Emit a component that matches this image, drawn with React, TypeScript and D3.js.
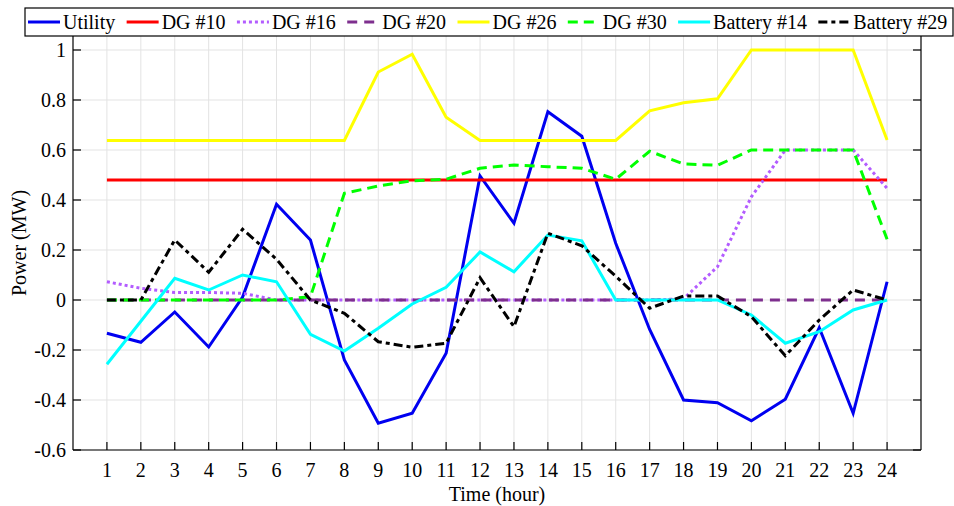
import React, { useEffect, useRef } from "react";
import * as d3 from "d3";

const hours = [1,2,3,4,5,6,7,8,9,10,11,12,13,14,15,16,17,18,19,20,21,22,23,24];
const utility = [-0.133,-0.169,-0.048,-0.188,0.012,0.383,0.24,-0.24,-0.493,-0.453,-0.213,0.496,0.307,0.753,0.655,0.227,-0.118,-0.4,-0.411,-0.483,-0.397,-0.111,-0.453,0.073];
const dg10 = [0.48,0.48,0.48,0.48,0.48,0.48,0.48,0.48,0.48,0.48,0.48,0.48,0.48,0.48,0.48,0.48,0.48,0.48,0.48,0.48,0.48,0.48,0.48,0.48];
const dg16 = [0.073,0.047,0.03,0.03,0.027,0,0,0,0,0,0,0,0,0,0,0,0,0.005,0.133,0.413,0.6,0.6,0.6,0.447];
const dg20 = [0,0,0,0,0,0,0,0,0,0,0,0,0,0,0,0,0,0,0,0,0,0,0,0];
const dg26 = [0.638,0.638,0.638,0.638,0.638,0.638,0.638,0.638,0.912,0.983,0.731,0.638,0.638,0.638,0.638,0.638,0.757,0.789,0.805,1,1,1,1,0.64];
const dg30 = [0,0,0,0,0,0,0.013,0.427,0.456,0.477,0.483,0.527,0.54,0.533,0.527,0.483,0.595,0.544,0.539,0.6,0.6,0.6,0.6,0.243];
const bat14 = [-0.257,-0.085,0.087,0.04,0.1,0.073,-0.137,-0.204,-0.113,-0.016,0.051,0.192,0.113,0.26,0.237,0,0,0,0,-0.06,-0.173,-0.127,-0.04,0];
const bat29 = [0,0,0.24,0.111,0.283,0.163,0,-0.053,-0.167,-0.189,-0.173,0.089,-0.107,0.267,0.217,0.095,-0.033,0.016,0.016,-0.067,-0.223,-0.08,0.04,0];

const seriesNames = ["Utility","DG #10","DG #16","DG #20","DG #26","DG #30","Battery #14","Battery #29"];
const seriesValues = [utility, dg10, dg16, dg20, dg26, dg30, bat14, bat29];
const seriesColors = ["#0000f0","#ff0000","#b35cff","#7e2f8e","#ffff00","#00ff00","#00ffff","#000000"];
const seriesDash = ["none","none","3,3","10,7","none","10,6","none","9,4,4,4"];

const yTicks = [-0.6,-0.4,-0.2,0,0.2,0.4,0.6,0.8,1];
const yTickLabels = ["-0.6","-0.4","-0.2","0","0.2","0.4","0.6","0.8","1"];

const W = 954, H = 506;
const FONT = "'Liberation Serif', 'Times New Roman', serif";

export default function App() {
  const ref = useRef<SVGSVGElement>(null);
  useEffect(() => {
    const svg = d3.select(ref.current);
    svg.selectAll("*").remove();
    const left = 73, right = 921, top = 36, bottom = 450;
    const x = d3.scaleLinear().domain([0, 25]).range([left, right]);
    const y = d3.scaleLinear().domain([-0.6, 1.056]).range([bottom, top]);

    svg.append("rect").attr("x", 0).attr("y", 0).attr("width", W).attr("height", H).attr("fill", "#fff");

    const grid = svg.append("g").attr("stroke", "#e3e3e3").attr("stroke-width", 1);
    hours.forEach(h => {
      grid.append("line").attr("x1", x(h)).attr("x2", x(h)).attr("y1", top).attr("y2", bottom);
    });
    yTicks.forEach(t => {
      grid.append("line").attr("x1", left).attr("x2", right).attr("y1", y(t)).attr("y2", y(t));
    });

    const line = d3.line<number>().x((_, i) => x(hours[i])).y(v => y(v));
    seriesValues.forEach((vals, k) => {
      svg.append("path")
        .attr("d", line(vals) as string)
        .attr("fill", "none")
        .attr("stroke", seriesColors[k])
        .attr("stroke-width", 3)
        .attr("stroke-dasharray", seriesDash[k])
        .attr("stroke-linejoin", "miter");
    });

    // axes box
    const ax = svg.append("g").attr("stroke", "#000").attr("stroke-width", 1.2);
    ax.append("line").attr("x1", left).attr("x2", right).attr("y1", bottom).attr("y2", bottom);
    ax.append("line").attr("x1", left).attr("x2", left).attr("y1", top).attr("y2", bottom);
    ax.append("line").attr("x1", right).attr("x2", right).attr("y1", top).attr("y2", bottom);
    hours.forEach(h => {
      ax.append("line").attr("x1", x(h)).attr("x2", x(h)).attr("y1", bottom).attr("y2", bottom - 8);
    });
    yTicks.forEach(t => {
      ax.append("line").attr("x1", left).attr("x2", left + 8).attr("y1", y(t)).attr("y2", y(t));
      ax.append("line").attr("x1", right).attr("x2", right - 8).attr("y1", y(t)).attr("y2", y(t));
    });

    const txt = svg.append("g").attr("font-family", FONT).attr("font-size", 20).attr("fill", "#000");
    hours.forEach(h => {
      txt.append("text").attr("x", x(h)).attr("y", 477).attr("text-anchor", "middle").text(String(h));
    });
    yTicks.forEach((t, i) => {
      txt.append("text").attr("x", 66).attr("y", y(t)).attr("dy", "0.33em").attr("text-anchor", "end").text(yTickLabels[i]);
    });
    txt.append("text").attr("x", (left + right) / 2).attr("y", 501).attr("text-anchor", "middle").text("Time (hour)");
    txt.append("text").attr("transform", `translate(26,${(top + bottom) / 2}) rotate(-90)`).attr("text-anchor", "middle").text("Power (MW)");

    // legend
    const lg = svg.append("g");
    lg.append("rect").attr("x", 25).attr("y", 8).attr("width", 928).attr("height", 28)
      .attr("fill", "#fff").attr("stroke", "#000").attr("stroke-width", 1.2);
    let cx = 28;
    seriesNames.forEach((name, k) => {
      lg.append("line").attr("x1", cx).attr("x2", cx + 32).attr("y1", 22).attr("y2", 22)
        .attr("stroke", seriesColors[k]).attr("stroke-width", 3).attr("stroke-dasharray", seriesDash[k]);
      const t = lg.append("text").attr("x", cx + 35).attr("y", 29).attr("font-family", FONT).attr("font-size", 20).text(name);
      const w = (t.node() as SVGTextElement).getComputedTextLength();
      cx = cx + 35 + w + 11.4;
    });
  }, []);
  return (
    <svg ref={ref} width={W} height={H} style={{ position: "absolute", left: 0, top: 0 }} />
  );
}
